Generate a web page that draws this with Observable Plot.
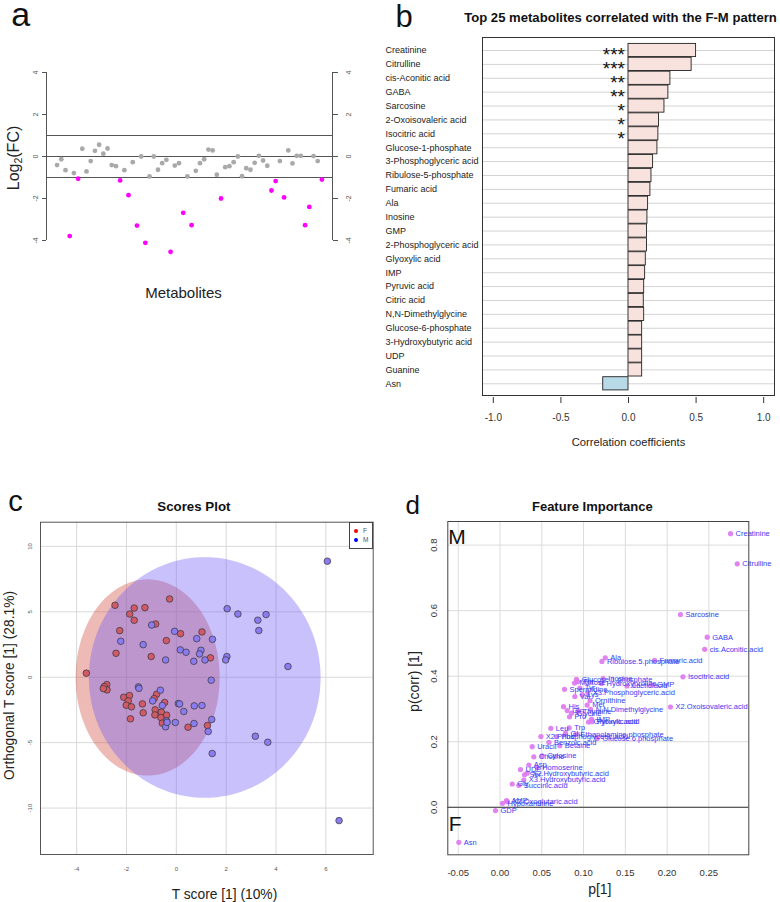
<!DOCTYPE html>
<html><head><meta charset="utf-8">
<script src="https://cdn.jsdelivr.net/npm/d3@7"></script>
<script src="https://cdn.jsdelivr.net/npm/@observablehq/plot@0.6"></script>
<style>
body{margin:0;background:#fff;font-family:"Liberation Sans",Arial,sans-serif;}
#root{position:relative;width:780px;height:902px;overflow:hidden;background:#fff;}
.panel{position:absolute;}
.panel svg{overflow:visible;display:block;}
</style></head><body><div id="root"></div>
<script>
// ---------------- Panel a: log2 fold changes ----------------
const fcValues = [-0.41,-0.13,-0.65,-3.79,-0.79,-1.06,0.37,-0.71,-0.22,0.27,
  0.56,0.13,0.38,-0.41,-0.46,-1.14,-0.65,-1.84,-0.27,-3.29,
  0.00,-4.11,-0.95,0.00,-0.63,-0.32,-0.16,-4.54,-0.43,-0.32,
  -2.68,-0.95,-3.27,-0.68,-0.32,-0.13,0.33,0.29,-0.87,-2.00,
  -0.51,-0.46,-0.27,0.00,-0.94,-0.56,-0.63,-0.30,0.03,-0.19,
  -0.44,-1.62,-1.17,-0.22,-1.95,0.29,-0.33,0.03,0.03,-3.27,
  -2.40,0.02,-0.22,-1.10];
const fcThreshold = 1;
const fcLines = [1, 0, -1];
const fcTicks = [-4, -2, 0, 2, 4];
const aXDomain = [-1.52, 66.52];

// ---------------- Panel b: top 25 correlations ----------------
const bTitle = "Top 25 metabolites correlated with the F-M pattern";
const bNames = ["Creatinine","Citrulline","cis-Aconitic acid","GABA","Sarcosine","2-Oxoisovaleric acid","Isocitric acid","Glucose-1-phosphate","3-Phosphoglyceric acid","Ribulose-5-phosphate","Fumaric acid","Ala","Inosine","GMP","2-Phosphoglyceric acid","Glyoxylic acid","IMP","Pyruvic acid","Citric acid","N,N-Dimethylglycine","Glucose-6-phosphate","3-Hydroxybutyric acid","UDP","Guanine","Asn"];
const bCorr = [0.500,0.467,0.310,0.295,0.266,0.226,0.221,0.214,0.182,0.170,0.162,0.145,0.140,0.137,0.137,0.128,0.123,0.116,0.113,0.116,0.101,0.101,0.101,0.101,-0.187];
const bStars = ["***","***","**","**","*","*","*","","","","","","","","","","","","","","","","","",""];
const bTicks = [-1, -0.5, 0, 0.5, 1];

// ---------------- Panel c: OPLS-DA scores ----------------
const fT = [-2.46,-1.69,-1.26,-0.27,-1.87,-1.69,-0.83,-2.27,0.17,-0.40,1.03,-2.42,-1.01,1.37,-3.61,-2.79,-2.89,-2.78,-2.93,-2.11,-1.88,-1.93,-2.01,-1.80,-1.36,-1.33,-1.84,-0.79,-0.89,-0.47,-0.85,-0.86,-0.60,-0.39,-0.62,-0.56,0.47,1.25];
const fO = [5.50,5.29,5.32,5.98,4.83,4.35,4.07,3.56,3.33,2.80,3.46,1.83,1.58,1.48,0.31,-0.56,-0.71,-0.97,-0.87,-1.53,-1.40,-1.81,-2.14,-2.26,-2.04,-2.72,-3.18,-1.30,-1.63,-1.93,-2.49,-2.88,-2.67,-2.90,-3.08,-3.51,-3.82,-3.69];
const mT = [2.04,2.47,3.27,3.60,3.31,-0.99,-0.07,0.82,1.45,-2.23,-1.33,0.16,0.39,0.99,0.93,-0.43,0.70,1.15,2.03,1.98,4.48,1.40,-1.52,-1.50,-0.64,-0.95,-0.56,0.08,0.13,0.30,0.72,1.03,-0.39,-0.43,-0.04,0.71,1.42,1.28,1.44,3.17,3.67,6.06,6.53,-0.37];
const mO = [5.24,4.83,4.36,4.79,3.57,3.99,3.51,2.95,2.90,2.75,2.49,2.09,1.91,2.06,1.78,1.32,1.22,1.32,1.58,1.32,0.82,-0.23,-0.74,-0.85,-0.99,-1.81,-2.16,-2.01,-2.04,-2.62,-2.19,-2.16,-3.33,-3.79,-3.46,-3.54,-3.23,-4.15,-5.83,-4.51,-4.97,8.87,-10.96,-3.45];
const elGroups = ["F", "M"];
const elCx = [-1.15, 1.14];
const elCy = [-0.02, -0.02];
const elRx = [2.89, 4.65];
const elRy = [7.50, 9.20];
const cXTicks = [-4, -2, 0, 2, 4, 6];
const cYTicks = [-10, -5, 0, 5, 10];

// ---------------- Panel d: feature importance ----------------
const dNames = ["Creatinine","Citrulline","Sarcosine","GABA","cis.Aconitic.acid","Isocitric.acid","X2.Oxoisovaleric.acid","Ala","Ribulose.5.phosphate","Fumaric.acid","Glucose.1.phosphate","Inosine","Maltose","Thr","Hydroxyproline","Lactic.acid","GMP","Spermidine","Tyr","X3.Phosphoglyceric.acid","Val","Lys","Ornithine","Met","His","Gln","Glycine","Thymine","N.N.Dimethylglycine","Pro","IMP","Glyoxylic.acid","Pyruvic.acid","Leu","Trp","Glu","Ethanolamine.phosphate","X2.Phosphoglyceric.acid","Phe","Glucose.6.phosphate","Benzoic.acid","Betaine","Uracil","Choline","Cytosine","Asp","UDP","Homoserine","X2.Hydroxybutyric.acid","Ser","X3.Hydroxybutyric.acid","Gly","Succinic.acid","AMP","X2.Oxoglutaric.acid","Hypoxanthine","GDP","Asn"];
const dP1 = [0.276,0.284,0.216,0.248,0.245,0.219,0.204,0.126,0.122,0.185,0.0915,0.1235,0.0892,0.093,0.1215,0.152,0.182,0.0772,0.0955,0.105,0.0896,0.0984,0.1077,0.1043,0.076,0.0804,0.0856,0.093,0.1085,0.0832,0.1096,0.106,0.110,0.0608,0.0828,0.0785,0.0905,0.0489,0.0677,0.1163,0.0585,0.0716,0.0385,0.0405,0.0505,0.0345,0.0245,0.0445,0.0325,0.0293,0.0285,0.0146,0.0225,0.0078,0.009,0.003,-0.0054,-0.0493];
const dPcorr = [0.835,0.743,0.588,0.519,0.482,0.398,0.306,0.456,0.445,0.448,0.390,0.393,0.379,0.383,0.378,0.370,0.373,0.360,0.364,0.350,0.338,0.344,0.325,0.312,0.307,0.295,0.287,0.292,0.299,0.276,0.269,0.260,0.261,0.241,0.242,0.226,0.222,0.216,0.216,0.210,0.198,0.188,0.185,0.154,0.157,0.129,0.115,0.122,0.104,0.099,0.083,0.071,0.067,0.020,0.017,0.012,-0.010,-0.107];
const dXTicks = [-0.05, 0, 0.05, 0.10, 0.15, 0.20, 0.25];
const dYTicks = [0, 0.2, 0.4, 0.6, 0.8];

// ---------------- helpers ----------------
const FONT = "Liberation Sans, Arial, Helvetica, sans-serif";
const root = document.getElementById("root");
function place(node, left, top, w) {
  const div = document.createElement("div");
  div.className = "panel";
  div.style.left = left + "px";
  div.style.top = top + "px";
  div.style.width = w + "px";
  div.appendChild(node);
  root.appendChild(div);
}
function baseStyle(color) {
  return {fontFamily: FONT, background: "transparent", overflow: "visible", maxWidth: "none", color};
}
function ellipse(k) {
  return d3.range(0, 360, 3).map(a => {
    const t = a * Math.PI / 180;
    return {x: elCx[k] + elRx[k] * Math.cos(t), y: elCy[k] + elRy[k] * Math.sin(t)};
  });
}

// ---------------- Panel a ----------------
const plotA = Plot.plot({
  width: 370, height: 310, marginLeft: 46, marginRight: 38, marginTop: 51, marginBottom: 49,
  x: {domain: aXDomain, axis: null},
  y: {domain: [-5, 5], axis: null},
  color: {type: "identity"},
  style: baseStyle("#555"),
  marks: [
    Plot.ruleY(fcLines, {stroke: "#555", strokeWidth: 1}),
    Plot.ruleX([aXDomain[0], aXDomain[1]], {y1: fcTicks[0], y2: fcTicks[fcTicks.length - 1], stroke: "#555", strokeWidth: 1}),
    Plot.axisY(fcTicks, {anchor: "left", tickSize: 4, tickFormat: () => "", label: null}),
    Plot.axisY(fcTicks, {anchor: "right", tickSize: 5, tickFormat: () => "", label: null}),
    Plot.text(fcTicks, {y: d => d, text: d => String(d), frameAnchor: "left", textAnchor: "middle", lineAnchor: "middle", dx: -11, rotate: -90, fontSize: 7, fill: "#555"}),
    Plot.text(fcTicks, {y: d => d, text: d => String(d), frameAnchor: "right", textAnchor: "middle", lineAnchor: "middle", dx: 16, rotate: -90, fontSize: 7, fill: "#555"}),
    Plot.dot(fcValues, {x: (d, i) => i + 1, y: d => d, r: 2.4, stroke: null,
      fill: d => Math.abs(d) > fcThreshold ? "#ff00ff" : "#a9a9a9"}),
    Plot.text(["Metabolites"], {frameAnchor: "bottom", text: d => d, dy: 36, dx: -6, fontSize: 15, fill: "#222"}),
    Plot.text(["a"], {frameAnchor: "top-left", text: d => d, textAnchor: "start", lineAnchor: "bottom", dx: -35.3, dy: -25.3, fontSize: 34, fill: "#111"})
  ]
});
place(plotA, 0, 0, 370);

// Log2(FC) label with subscript
const ylabA = document.createElement("div");
ylabA.innerHTML = 'Log<sub style="font-size:10.5px;vertical-align:-3px;line-height:0">2</sub>(FC)';
Object.assign(ylabA.style, {position: "absolute", left: "14px", top: "158px", transform: "translate(-50%,-50%) rotate(-90deg)",
  fontSize: "16px", whiteSpace: "nowrap", color: "#222", fontFamily: FONT, lineHeight: "16px", transformOrigin: "50% 50%"});
root.appendChild(ylabA);

// ---------------- Panel b ----------------
// rows are placed by their rank (0 = top) on a linear scale
const bRows = bNames.map((name, i) => ({name, rank: i, corr: bCorr[i], stars: bStars[i]}));
const plotB = Plot.plot({
  width: 405, height: 460, marginLeft: 107, marginRight: 6, marginTop: 37, marginBottom: 65,
  x: {domain: [-1.08, 1.08], axis: null},
  y: {domain: [-0.936, 24.842], reverse: true, axis: null},
  color: {type: "identity"},
  style: baseStyle("#333"),
  marks: [
    Plot.ruleY(bRows, {y: "rank", stroke: "#d3d3d3", strokeWidth: 1}),
    Plot.rectX(bRows, {y1: d => d.rank - 0.475, y2: d => d.rank + 0.475, x1: 0, x2: "corr",
      fill: d => d.corr >= 0 ? "#f8e2de" : "#b8d9e6", stroke: "#222", strokeWidth: 0.9}),
    Plot.text(bRows, {y: "rank", x: 0, text: "stars", textAnchor: "end", lineAnchor: "bottom",
      dx: -3.5, dy: 11, fontSize: 19, fill: "#111"}),
    Plot.text(bRows, {y: "rank", text: "name", frameAnchor: "left", textAnchor: "start", dx: -97, fontSize: 9, fill: "#222"}),
    Plot.frame({stroke: "#333", strokeWidth: 1}),
    Plot.axisX(bTicks, {tickFormat: d => d.toFixed(1), tickSize: 6, tickPadding: 10, dy: 2, fontSize: 10, label: null}),
    Plot.text(["Correlation coefficients"], {frameAnchor: "bottom", text: d => d, dy: 50, fontSize: 11.2, fill: "#222"}),
    Plot.text([bTitle], {frameAnchor: "top", text: d => d, lineAnchor: "bottom", dy: -15.3, dx: -8, fontSize: 13.1, fontWeight: "bold", fill: "#111"}),
    Plot.text(["b"], {frameAnchor: "top-left", text: d => d, textAnchor: "start", lineAnchor: "bottom", dx: -87.1, dy: -11, fontSize: 31, fill: "#111"})
  ]
});
place(plotB, 375, 0, 405);

// ---------------- Panel c ----------------
const plotC = Plot.plot({
  width: 390, height: 432, marginLeft: 40, marginRight: 17.3, marginTop: 51.7, marginBottom: 48,
  x: {domain: [-5.45, 7.9], axis: null},
  y: {domain: [-13.55, 11.85], axis: null},
  style: baseStyle("#555"),
  marks: [
    Plot.gridX(cXTicks, {stroke: "#d9d9d9", strokeOpacity: 1}),
    Plot.gridY(cYTicks, {stroke: "#d9d9d9", strokeOpacity: 1}),
    Plot.line(ellipse(0), {x: "x", y: "y", curve: "linear-closed", fill: "rgb(210,82,72)", fillOpacity: 0.4, stroke: "none"}),
    Plot.line(ellipse(1), {x: "x", y: "y", curve: "linear-closed", fill: "rgb(112,92,245)", fillOpacity: 0.38, stroke: "none"}),
    Plot.dot(fT, {x: d => d, y: (d, i) => fO[i], r: 3.3, fill: "#cf5a68", stroke: "#333", strokeWidth: 0.7}),
    Plot.dot(mT, {x: d => d, y: (d, i) => mO[i], r: 3.3, fill: "#8a7bf0", stroke: "#333", strokeWidth: 0.7}),
    Plot.frame({stroke: "#555", strokeWidth: 1}),
    Plot.axisX(cXTicks, {tickSize: 0, tickPadding: 12.5, fontSize: 6, tickFormat: d => String(d), label: null}),
    Plot.axisY(cYTicks, {tickSize: 0, tickPadding: 9, tickRotate: -90, fontSize: 6, tickFormat: d => String(d), label: null}),
    Plot.text(["Scores Plot"], {frameAnchor: "top", text: d => d, lineAnchor: "bottom", dy: -11.2, dx: -13, fontSize: 13.3, fontWeight: "bold", fill: "#111"}),
    Plot.text(["T score [1] (10%)"], {frameAnchor: "bottom", text: d => d, lineAnchor: "bottom", dy: 44, dx: 17.6, fontSize: 13.8, fill: "#222"}),
    Plot.text(["Orthogonal T score [1] (28.1%)"], {frameAnchor: "left", text: d => d, rotate: -90, textAnchor: "middle", lineAnchor: "bottom", dx: -27, dy: -2.9, fontSize: 13.8, fill: "#222"}),
    Plot.text(["c"], {frameAnchor: "top-left", text: d => d, textAnchor: "start", lineAnchor: "bottom", dx: -32.2, dy: -11.4, fontSize: 29, fill: "#111"})
  ]
});
place(plotC, 0, 470, 390);

// legend for panel c
const leg = document.createElement("div");
Object.assign(leg.style, {position: "absolute", left: "349.3px", top: "521.7px", width: "23.4px", height: "27.3px",
  border: "1px solid #444", boxSizing: "border-box", background: "#fff", fontFamily: FONT});
[["F", "#ff0000", 8.3], ["M", "#0000ff", 17.3]].forEach(([lab, col, cy]) => {
  const dot = document.createElement("div");
  Object.assign(dot.style, {position: "absolute", left: (5.7 - 1.9) + "px", top: (cy - 1.9) + "px", width: "3.8px", height: "3.8px", borderRadius: "50%", background: col});
  const t = document.createElement("div");
  t.textContent = lab;
  Object.assign(t.style, {position: "absolute", left: "12.6px", top: (cy - 4) + "px", fontSize: "6.5px", lineHeight: "8px", color: "#555"});
  leg.appendChild(dot); leg.appendChild(t);
});
root.appendChild(leg);

// ---------------- Panel d ----------------
const plotD = Plot.plot({
  width: 390, height: 432, marginLeft: 57.3, marginRight: 31.7, marginTop: 51, marginBottom: 47.7,
  x: {domain: [-0.0625, 0.2978], axis: null},
  y: {domain: [-0.145, 0.872], axis: null},
  style: baseStyle("#333"),
  marks: [
    Plot.gridX(dXTicks, {stroke: "#dcdcdc", strokeOpacity: 1}),
    Plot.gridY(dYTicks, {stroke: "#dcdcdc", strokeOpacity: 1}),
    Plot.ruleY([0], {stroke: "#333", strokeWidth: 1}),
    Plot.dot(dNames, {x: (d, i) => dP1[i], y: (d, i) => dPcorr[i], r: 2.6, fill: "#dd77ee", fillOpacity: 0.9, stroke: null}),
    Plot.text(dNames, {x: (d, i) => dP1[i], y: (d, i) => dPcorr[i], text: d => d, textAnchor: "start", dx: 5, fontSize: 7.5, fill: "#3a3af2"}),
    Plot.frame({stroke: "#444", strokeWidth: 1}),
    Plot.axisX(dXTicks, {tickSize: 0, tickPadding: 14, fontSize: 9.5, tickFormat: d => d.toFixed(2), label: null}),
    Plot.axisY(dYTicks, {tickSize: 0, tickPadding: 11.3, tickRotate: -90, fontSize: 9.5, tickFormat: d => d.toFixed(1), label: null}),
    Plot.text(["Feature Importance"], {frameAnchor: "top", text: d => d, lineAnchor: "bottom", dy: -11, dx: -6, fontSize: 13, fontWeight: "bold", fill: "#111"}),
    Plot.text(["p[1]"], {frameAnchor: "bottom", text: d => d, lineAnchor: "bottom", dy: 39.2, dx: 1.5, fontSize: 14, fill: "#222"}),
    Plot.text(["p(corr) [1]"], {frameAnchor: "left", text: d => d, rotate: -90, textAnchor: "middle", lineAnchor: "bottom", dx: -29.3, dy: -6.6, fontSize: 14, fill: "#222"}),
    Plot.text(["M"], {frameAnchor: "top-left", text: d => d, textAnchor: "start", lineAnchor: "top", dx: 0.5, dy: 8, fontSize: 21, fill: "#111"}),
    Plot.text(["F"], {y: 0, frameAnchor: "left", text: d => d, textAnchor: "start", lineAnchor: "top", dx: 1, dy: 8.3, fontSize: 21, fill: "#111"}),
    Plot.text(["d"], {frameAnchor: "top-left", text: d => d, textAnchor: "start", lineAnchor: "bottom", dx: -42.2, dy: -7.7, fontSize: 26, fill: "#111"})
  ]
});
place(plotD, 390, 470, 390);
</script></body></html>
